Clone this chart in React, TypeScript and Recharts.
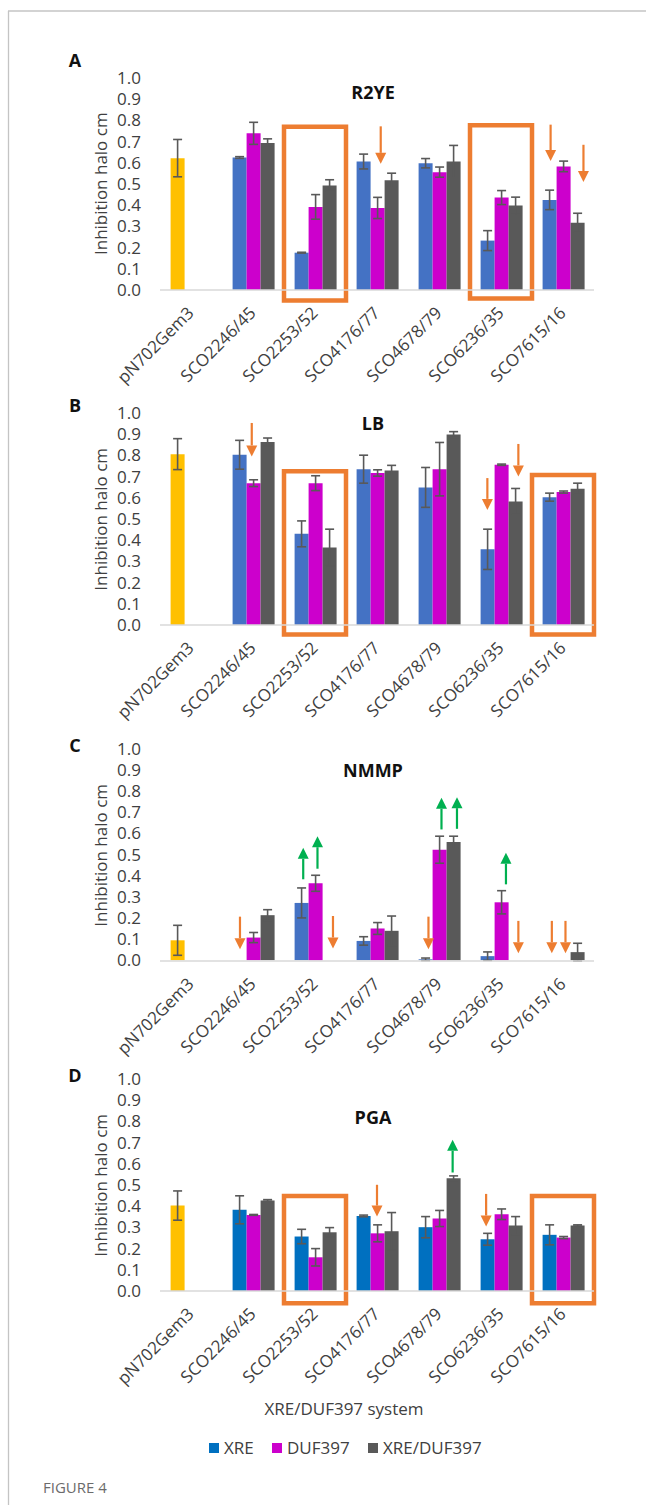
import React from 'react';
import { BarChart, Bar, XAxis, YAxis, ErrorBar, Cell, ReferenceArea, ReferenceLine } from 'recharts';

// ---------- data ----------
const categories = ['pN702Gem3', 'SCO2246/45', 'SCO2253/52', 'SCO4176/77', 'SCO4678/79', 'SCO6236/35', 'SCO7615/16'];
const seriesNames = ['XRE', 'DUF397', 'XRE/DUF397'];
const yTicks = [0, 0.1, 0.2, 0.3, 0.4, 0.5, 0.6, 0.7, 0.8, 0.9, 1.0];
const xAxisTitle = 'XRE/DUF397 system';

// A — R2YE
const r2yeXre = [0.622, 0.625, 0.176, 0.606, 0.598, 0.233, 0.425];
const r2yeXreErr = [0.088, 0.004, 0.002, 0.035, 0.022, 0.047, 0.046];
const r2yeDuf = [null, 0.739, 0.392, 0.387, 0.556, 0.436, 0.583];
const r2yeDufErr = [null, 0.052, 0.058, 0.05, 0.024, 0.033, 0.025];
const r2yeBoth = [null, 0.693, 0.493, 0.518, 0.606, 0.398, 0.317];
const r2yeBothErr = [null, 0.02, 0.027, 0.033, 0.076, 0.04, 0.045];

// B — LB
const lbXre = [0.806, 0.803, 0.43, 0.735, 0.649, 0.357, 0.603];
const lbXreErr = [0.073, 0.068, 0.061, 0.066, 0.094, 0.095, 0.019];
const lbDuf = [null, 0.669, 0.669, 0.717, 0.735, 0.756, 0.627];
const lbDufErr = [null, 0.016, 0.035, 0.015, 0.126, 0.003, 0.005];
const lbBoth = [null, 0.863, 0.365, 0.729, 0.898, 0.583, 0.643];
const lbBothErr = [null, 0.019, 0.087, 0.024, 0.014, 0.061, 0.026];

// C — NMMP
const nmmpXre = [0.094, 0, 0.271, 0.091, 0.004, 0.019, 0];
const nmmpXreErr = [0.071, null, 0.071, 0.02, 0.006, 0.02, null];
const nmmpDuf = [null, 0.107, 0.364, 0.15, 0.523, 0.274, 0];
const nmmpDufErr = [null, 0.024, 0.038, 0.028, 0.064, 0.055, null];
const nmmpBoth = [null, 0.213, 0, 0.139, 0.559, 0, 0.038];
const nmmpBothErr = [null, 0.026, null, 0.07, 0.028, null, 0.042];

// D — PGA
const pgaXre = [0.403, 0.383, 0.257, 0.354, 0.301, 0.244, 0.265];
const pgaXreErr = [0.069, 0.066, 0.034, 0.004, 0.05, 0.028, 0.047];
const pgaDuf = [null, 0.359, 0.159, 0.272, 0.342, 0.362, 0.252];
const pgaDufErr = [null, 0.002, 0.041, 0.04, 0.038, 0.025, 0.005];
const pgaBoth = [null, 0.427, 0.277, 0.282, 0.532, 0.309, 0.309];
const pgaBothErr = [null, 0.004, 0.022, 0.088, 0.011, 0.042, 0.003];

// annotation boxes: boxed category and vertical extent (data units)
const r2yeBoxes = [{ cat: 2, y1: -0.05, y2: 0.77 }, { cat: 5, y1: -0.04, y2: 0.777 }];
const lbBoxes = [{ cat: 2, y1: -0.045, y2: 0.725 }, { cat: 6, y1: -0.045, y2: 0.707 }];
const pgaBoxes = [{ cat: 2, y1: -0.058, y2: 0.448 }, { cat: 6, y1: -0.058, y2: 0.448 }];

// annotation arrows: x = category index + position inside the category, from -> to in data units
const r2yeDown = [{ x: 3.56, from: 0.772, to: 0.595 }, { x: 6.3, from: 0.78, to: 0.608 }, { x: 6.83, from: 0.685, to: 0.509 }];
const lbDown = [{ x: 1.48, from: 0.953, to: 0.795 }, { x: 5.28, from: 0.693, to: 0.543 }, { x: 5.78, from: 0.854, to: 0.701 }];
const nmmpDown = [
  { x: 1.29, from: 0.206, to: 0.052 }, { x: 2.79, from: 0.209, to: 0.055 }, { x: 4.33, from: 0.206, to: 0.052 },
  { x: 5.78, from: 0.186, to: 0.033 }, { x: 6.32, from: 0.186, to: 0.033 }, { x: 6.54, from: 0.186, to: 0.033 },
];
const nmmpUp = [
  { x: 2.31, from: 0.383, to: 0.532 }, { x: 2.54, from: 0.433, to: 0.587 }, { x: 4.54, from: 0.619, to: 0.769 },
  { x: 4.79, from: 0.622, to: 0.772 }, { x: 5.58, from: 0.359, to: 0.509 },
];
const pgaDown = [{ x: 3.5, from: 0.501, to: 0.351 }, { x: 5.26, from: 0.458, to: 0.304 }];
const pgaUp = [{ x: 4.72, from: 0.559, to: 0.713 }];

// ---------- styles ----------
const FONT = '"Open Sans", "Noto Sans", sans-serif';
const TEXT = '#404040';
const YELLOW = '#FFC000';
const MAGENTA = '#CC00CC';
const GRAY = '#595959';
const ORANGE = '#ED7D31';
const GREEN = '#00B050';
const BLUE_A = '#4472C4';
const BLUE_D = '#0070C0';

const CHART_W = 646;
const Y_W = 160;
const M_RIGHT = 52;
const BAND = (CHART_W - Y_W - M_RIGHT) / categories.length;
const MT = 20;
const PH = 212;
const XH = 100;
const MB = 10;

const panels = [
  { letter: 'A', title: 'R2YE', top1: 77.7, letterY: 60, titleY: 92, blue: BLUE_A, xre: r2yeXre, xreErr: r2yeXreErr, duf: r2yeDuf, dufErr: r2yeDufErr, both: r2yeBoth, bothErr: r2yeBothErr, boxes: r2yeBoxes, down: r2yeDown, up: [] },
  { letter: 'B', title: 'LB', top1: 413.3, letterY: 405, titleY: 423, blue: BLUE_A, xre: lbXre, xreErr: lbXreErr, duf: lbDuf, dufErr: lbDufErr, both: lbBoth, bothErr: lbBothErr, boxes: lbBoxes, down: lbDown, up: [] },
  { letter: 'C', title: 'NMMP', top1: 749.3, letterY: 745, titleY: 770, blue: BLUE_A, xre: nmmpXre, xreErr: nmmpXreErr, duf: nmmpDuf, dufErr: nmmpDufErr, both: nmmpBoth, bothErr: nmmpBothErr, boxes: [], down: nmmpDown, up: nmmpUp },
  { letter: 'D', title: 'PGA', top1: 1079.3, letterY: 1075, titleY: 1117, blue: BLUE_D, xre: pgaXre, xreErr: pgaXreErr, duf: pgaDuf, dufErr: pgaDufErr, both: pgaBoth, bothErr: pgaBothErr, boxes: pgaBoxes, down: pgaDown, up: pgaUp },
];

const CatTick = (props: any) => {
  const { x, y, payload } = props;
  return (
    <g transform={`translate(${x + 4},${y + 24})`}>
      <text transform="rotate(-45)" textAnchor="end" fontFamily={FONT} fontSize={17} fill={TEXT}>
        {payload.value}
      </text>
    </g>
  );
};

// arrow drawn at the category centre given by the axis, shifted to its place inside the category band
const makeArrow = (color: string, frac: number) => (props: any) => {
  const { x1, y1, y2 } = props;
  const cx = x1 + (frac - 0.5) * BAND;
  const dir = y2 > y1 ? 1 : -1;
  const headL = 11;
  const headW = 5.5;
  const by = y2 - dir * headL;
  return (
    <g>
      <line x1={cx} y1={y1} x2={cx} y2={by} stroke={color} strokeWidth={2.2} />
      <polygon points={`${cx - headW},${by} ${cx + headW},${by} ${cx},${y2}`} fill={color} />
    </g>
  );
};

function arrowLines(list: any[], color: string, key: string) {
  return list.map((a: any, i: number) => {
    const cat = Math.floor(a.x);
    const frac = a.x - cat;
    return (
      <ReferenceLine
        key={key + i}
        xAxisId="c"
        segment={[{ x: categories[cat], y: a.from }, { x: categories[cat], y: a.to }]}
        ifOverflow="visible"
        shape={makeArrow(color, frac)}
      />
    );
  });
}

function Panel({ p }: { p: any }) {
  const data = categories.map((name, i) => ({
    name,
    xre: p.xre[i],
    xreErr: p.xreErr[i],
    duf: p.duf[i],
    dufErr: p.dufErr[i],
    both: p.both[i],
    bothErr: p.bothErr[i],
  }));
  const err = { width: 4.5, strokeWidth: 1.6, stroke: GRAY };
  return (
    <div style={{ position: 'absolute', left: 0, top: p.top1 - MT }}>
      <BarChart
        width={CHART_W}
        height={MT + PH + XH + MB}
        data={data}
        margin={{ top: MT, right: M_RIGHT, bottom: MB, left: 0 }}
        barCategoryGap={10.6}
        barGap={0}
      >
        <XAxis
          xAxisId="c"
          dataKey="name"
          interval={0}
          height={XH}
          tick={<CatTick />}
          tickLine={false}
          tickSize={0}
          tickMargin={0}
          axisLine={{ stroke: '#d9d9d9', strokeWidth: 1.5 }}
        />
        <YAxis
          domain={[0, 1]}
          ticks={yTicks}
          interval={0}
          width={Y_W}
          axisLine={false}
          tickLine={false}
          tickSize={0}
          tickMargin={19}
          tickFormatter={(v: number) => v.toFixed(1)}
          tick={{ fontFamily: FONT, fontSize: 17, fill: TEXT }}
        />
        <Bar xAxisId="c" dataKey="xre" name={seriesNames[0]} fill={p.blue} isAnimationActive={false}>
          {data.map((d, i) => (
            <Cell key={i} fill={i === 0 ? YELLOW : p.blue} />
          ))}
          <ErrorBar dataKey="xreErr" {...err} />
        </Bar>
        <Bar xAxisId="c" dataKey="duf" name={seriesNames[1]} fill={MAGENTA} isAnimationActive={false}>
          <ErrorBar dataKey="dufErr" {...err} />
        </Bar>
        <Bar xAxisId="c" dataKey="both" name={seriesNames[2]} fill={GRAY} isAnimationActive={false}>
          <ErrorBar dataKey="bothErr" {...err} />
        </Bar>
        {p.boxes.map((b: any, i: number) => (
          <ReferenceArea
            key={'b' + i}
            xAxisId="c"
            x1={categories[b.cat]}
            x2={categories[b.cat]}
            y1={b.y1}
            y2={b.y2}
            fill="none"
            fillOpacity={0}
            stroke={ORANGE}
            strokeWidth={4.5}
            strokeOpacity={1}
            ifOverflow="visible"
          />
        ))}
        {arrowLines(p.down, ORANGE, 'd')}
        {arrowLines(p.up, GREEN, 'u')}
      </BarChart>
    </div>
  );
}

const legendColors = [BLUE_D, MAGENTA, GRAY];
const legendX = [209, 272, 368];

export default function App() {
  return (
    <div style={{ position: 'absolute', left: 0, top: 0, width: 646, height: 1505, background: '#fff', overflow: 'hidden' }}>
      <svg width={646} height={1505} style={{ position: 'absolute', left: 0, top: 0 }}>
        <line x1={8} y1={11} x2={646} y2={11} stroke="#c4c4c4" strokeWidth={1.6} />
        <line x1={8.5} y1={11} x2={8.5} y2={1505} stroke="#c4c4c4" strokeWidth={1.3} />
        {panels.map((p) => (
          <g key={p.letter}>
            <text x={75} y={p.letterY + 6.5} textAnchor="middle" fontFamily={FONT} fontWeight={700} fontSize={18} fill="#111">
              {p.letter}
            </text>
            <text x={373} y={p.titleY + 6.5} textAnchor="middle" fontFamily={FONT} fontWeight={700} fontSize={18} fill="#111">
              {p.title}
            </text>
            <text
              transform={`translate(107,${p.top1 + PH / 2}) rotate(-90)`}
              textAnchor="middle"
              fontFamily={FONT}
              fontSize={17}
              fill={TEXT}
            >
              Inhibition halo cm
            </text>
          </g>
        ))}
        <text x={344} y={1415} textAnchor="middle" fontFamily={FONT} fontSize={17} fill={TEXT}>
          {xAxisTitle}
        </text>
        {seriesNames.map((s, i) => (
          <g key={s}>
            <rect x={legendX[i]} y={1443} width={10} height={10} fill={legendColors[i]} />
            <text x={legendX[i] + 15} y={1454} fontFamily={FONT} fontSize={17} fill={TEXT}>
              {s}
            </text>
          </g>
        ))}
        <text x={43} y={1493} fontFamily={FONT} fontSize={15} fill="#6b6b6b">
          FIGURE 4
        </text>
      </svg>
      {panels.map((p) => (
        <Panel key={p.letter} p={p} />
      ))}
    </div>
  );
}
